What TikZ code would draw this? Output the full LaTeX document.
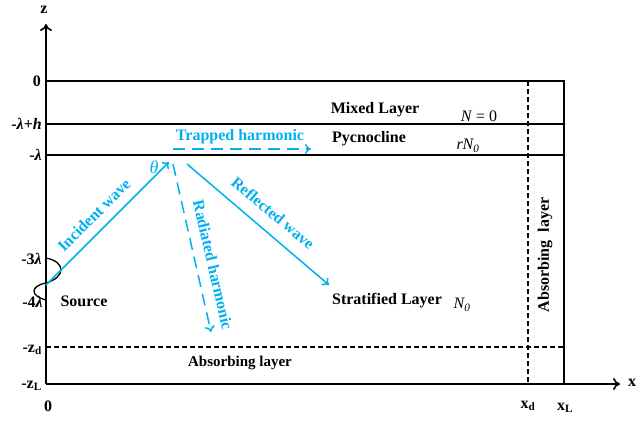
\documentclass[tikz,border=0pt]{standalone}
\usepackage{fontspec}
\setmainfont{Liberation Serif}
\usetikzlibrary{arrows.meta}
\definecolor{wblue}{RGB}{0,176,240}
\begin{document}
\begin{tikzpicture}[x=1pt,y=-1pt,
  lay/.style={line width=1.6pt},
  axis/.style={line width=1.6pt,-{To[length=7pt,width=12pt]}},
  bdash/.style={line width=1.4pt,dash pattern=on 5pt off 3pt},
  barrow/.style={wblue,line width=1.5pt,-{To[length=6pt,width=10pt]}},
  bdarrow/.style={barrow,dash pattern=on 12pt off 7pt},
  lbl/.style={font=\fontsize{16}{18}\selectfont\bfseries,inner sep=0pt},
  slbl/.style={font=\fontsize{15}{17}\selectfont\bfseries,inner sep=0pt},
  blbl/.style={lbl,text=wblue},
  mlbl/.style={font=\fontsize{16}{18}\selectfont,inner sep=0pt}
]
\useasboundingbox (0,0) rectangle (636,422);
% coordinates
\coordinate (O) at (46,384);
\coordinate (ztop) at (46,24);
\coordinate (xend) at (620,384);
\coordinate (t0) at (46,81);
\coordinate (t0r) at (564,81);
\coordinate (t1) at (46,124);
\coordinate (t1r) at (564,124);
\coordinate (t2) at (46,155);
\coordinate (t2r) at (564,155);
\coordinate (xL) at (564,384);
\coordinate (xdT) at (528,81);
\coordinate (xdB) at (528,384);
\coordinate (zd) at (46,347);
\coordinate (zdr) at (564,347);
% axes and layers
\draw[axis] (O) -- (ztop);
\draw[axis] (O) -- (xend);
\draw[lay] (t0) -- (t0r) -- (xL);
\draw[lay] (t1) -- (t1r);
\draw[lay] (t2) -- (t2r);
\draw[bdash] (xdT) -- (xdB);
\draw[bdash] (zd) -- (zdr);
% source wave
\coordinate (w0) at (46,258);
\coordinate (w1) at (46,283);
\coordinate (w2) at (46,300);
\draw[line width=1.3pt] (w0) .. controls (66,262) and (66,277) .. (w1)
  .. controls (30,286) and (30,296) .. (w2);
% waves
\coordinate (src) at (46,285);
\coordinate (top) at (169,162);
\coordinate (rs) at (187,164);
\coordinate (re) at (329,285);
\coordinate (hs) at (173,164);
\coordinate (he) at (211,332);
\coordinate (ts) at (173,149);
\coordinate (te) at (311,149);
\draw[barrow] (src) -- (top);
\draw[barrow] (rs) -- (re);
\draw[bdarrow] (hs) -- (he);
\draw[bdarrow] (ts) -- (te);
% blue labels
\node[blbl,rotate=45] (linc) at (94,215) {Incident wave};
\node[blbl,rotate=-40] (lref) at (273,213) {Reflected wave};
\node[blbl,rotate=-77] (lrad) at (213,265) {Radiated harmonic};
\node[blbl] (ltrap) at (240,137) {Trapped harmonic};
\node[font=\fontsize{18}{20}\selectfont,inner sep=0pt,text=wblue] (lth) at (154,167) {\textit{θ}};
% black labels
\node[lbl] (z) at (44,10) {z};
\node[lbl] (x) at (632,383) {x};
\node[lbl,anchor=east] (l0) at (41,81) {0};
\node[lbl,anchor=east] (l1) at (42,124) {-\textit{λ}+\textit{h}};
\node[lbl,anchor=east] (l2) at (42,155) {-\textit{λ}};
\node[lbl,anchor=east] (l3) at (42,259) {-3\textit{λ}};
\node[lbl,anchor=east] (l4) at (43,302) {-4\textit{λ}};
\node[lbl,anchor=east] (l5) at (42,350) {-z\textsubscript{d}};
\node[lbl,anchor=east] (l6) at (42,386) {-z\textsubscript{L}};
\node[lbl] (lo) at (48,406) {0};
\node[lbl] (lxd) at (528,406) {x\textsubscript{d}};
\node[lbl] (lxl) at (565,408) {x\textsubscript{L}};
\node[lbl] (srcl) at (84,301) {Source};
\node[lbl] (mix) at (375,110) {Mixed Layer};
\node[mlbl] (n0) at (479,116) {\textit{N} = 0};
\node[lbl] (pyc) at (369,139) {Pycnocline};
\node[mlbl] (rn) at (468,146) {\textit{rN\textsubscript{0}}};
\node[lbl] (strat) at (387,301) {Stratified Layer};
\node[mlbl] (nn) at (462,305) {\textit{N\textsubscript{0}}};
\node[slbl] (absb) at (240,363) {Absorbing layer};
\node[lbl,rotate=90] (absr) at (545,255) {Absorbing\ \ layer};
\end{tikzpicture}
\end{document}
